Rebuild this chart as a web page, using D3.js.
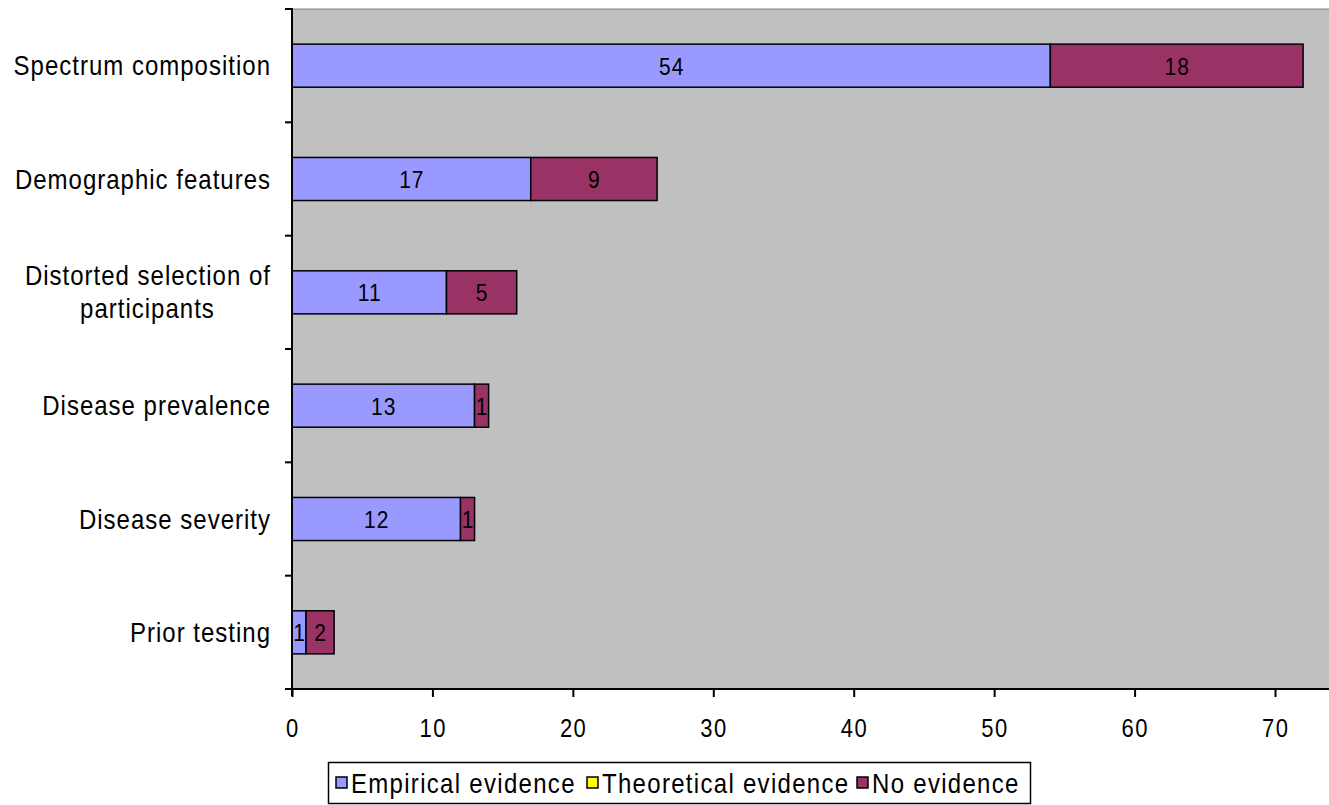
<!DOCTYPE html>
<html>
<head>
<meta charset="utf-8">
<script src="https://cdn.jsdelivr.net/npm/d3@7"></script>
<style>
  html, body { margin: 0; padding: 0; background: #fff; }
  svg { display: block; }
  text { font-family: "Liberation Sans", Arial, sans-serif; fill: #000; }
</style>
</head>
<body>
<svg id="chart" width="1329" height="805"></svg>
<script>
// Sources of variation in diagnostic accuracy, by type of supporting evidence
const categories = [
  "Spectrum composition",
  "Demographic features",
  "Distorted selection of participants",
  "Disease prevalence",
  "Disease severity",
  "Prior testing"
];
const empirical   = [54, 17, 11, 13, 12, 1];
const theoretical = [0, 0, 0, 0, 0, 0];
const noEvidence  = [18, 9, 5, 1, 1, 2];
const seriesNames = ["Empirical evidence", "Theoretical evidence", "No evidence"];
const seriesColors = ["#9999FF", "#FFFF00", "#993366"];
const xTicks = [0, 10, 20, 30, 40, 50, 60, 70];

const svg = d3.select("#chart");
const plotL = 292, plotR = 1340, plotT = 9, plotB = 689;

const x = d3.scaleLinear().domain([0, 70]).range([plotL, 1275]);
const y = d3.scaleBand().domain(categories).range([plotT, plotB]).paddingInner(0.62).paddingOuter(0.31);

// draws a text node slightly stretched vertically and loosely spaced, like the bitmap chart font
function tallText(sel, px, py, size, anchor, str, spacing) {
  const sp = spacing == null ? 1 : spacing;
  // letter-spacing adds trailing space; compensate so anchors stay put
  const shift = anchor === "end" ? sp : anchor === "middle" ? sp / 2 : 0;
  return sel.append("text")
    .attr("transform", `translate(${px + shift},${py}) scale(1,1.15)`)
    .attr("text-anchor", anchor).attr("dominant-baseline", "central")
    .attr("font-size", size).attr("letter-spacing", sp).text(str);
}

// plot background
svg.append("rect").attr("x", plotL).attr("y", plotT)
  .attr("width", plotR - plotL).attr("height", plotB - plotT)
  .attr("fill", "#C0C0C0").attr("stroke", "#808080").attr("stroke-width", 1);

const rows = categories.map((c, i) => ({ cat: c, vals: [empirical[i], theoretical[i], noEvidence[i]] }));
const stack = d3.stack().keys([0, 1, 2]).value((d, k) => d.vals[k])(rows);

const g = svg.append("g");
stack.forEach((layer, si) => {
  layer.forEach((seg, ri) => {
    const v = seg[1] - seg[0];
    if (v <= 0) return;
    const x0 = x(seg[0]), x1 = x(seg[1]);
    const yy = y(rows[ri].cat);
    g.append("rect")
      .attr("x", x0).attr("y", yy)
      .attr("width", x1 - x0).attr("height", y.bandwidth())
      .attr("fill", seriesColors[si])
      .attr("stroke", "#000").attr("stroke-width", 1.5);
    tallText(g, (x0 + x1) / 2, yy + y.bandwidth() / 2 + 1, 21, "middle", v, 1);
  });
});

// category axis
const yAxisG = svg.append("g").attr("transform", `translate(${plotL},0)`);
yAxisG.append("line").attr("x1", 0).attr("x2", 0).attr("y1", plotT - 1).attr("y2", plotB + 7)
  .attr("stroke", "#000").attr("stroke-width", 2);
const step = (plotB - plotT) / categories.length;
d3.range(categories.length + 1).forEach(i => {
  yAxisG.append("line").attr("x1", -7).attr("x2", 0)
    .attr("y1", plotT + i * step).attr("y2", plotT + i * step)
    .attr("stroke", "#000").attr("stroke-width", 2);
});
const wrapLabels = {
  "Distorted selection of participants": ["Distorted selection of", "participants"]
};
categories.forEach(c => {
  const cy = y(c) + y.bandwidth() / 2;
  const lines = wrapLabels[c] || [c];
  if (lines.length === 1) {
    tallText(yAxisG, -22, cy, 24, "end", lines[0], 1);
  } else {
    // wrapped labels are centred on their widest line
    const first = tallText(yAxisG, -22, cy - 16.5, 24, "end", lines[0], 1);
    const w = first.node().getComputedTextLength();
    lines.slice(1).forEach((ln, i) => {
      tallText(yAxisG, -22 - w / 2, cy + 16.5 + i * 33, 24, "middle", ln, 1);
    });
  }
});

// value axis
const xAxis = d3.axisBottom(x).tickValues(xTicks).tickSize(8).tickFormat("");
const xAxisG = svg.append("g").attr("transform", `translate(0,${plotB})`).call(xAxis);
xAxisG.select(".domain").remove();
xAxisG.append("line").attr("x1", plotL - 7).attr("x2", plotR).attr("y1", 0).attr("y2", 0)
  .attr("stroke", "#000").attr("stroke-width", 2);
xAxisG.selectAll(".tick line").attr("stroke", "#000").attr("stroke-width", 2);
xTicks.forEach(t => tallText(xAxisG, x(t), 39, 22, "middle", t, 1.5));

// legend
const legend = svg.append("g");
legend.append("rect").attr("x", 328.5).attr("y", 762.5).attr("width", 702).attr("height", 41)
  .attr("fill", "#fff").attr("stroke", "#000").attr("stroke-width", 1.5);
const legendX = [336, 587, 857];
seriesNames.forEach((name, i) => {
  legend.append("rect").attr("x", legendX[i]).attr("y", 777).attr("width", 11).attr("height", 11)
    .attr("fill", seriesColors[i]).attr("stroke", "#000").attr("stroke-width", 1.5);
  tallText(legend, legendX[i] + 15, 783, 24, "start", name, 1.3);
});
</script>
</body>
</html>
